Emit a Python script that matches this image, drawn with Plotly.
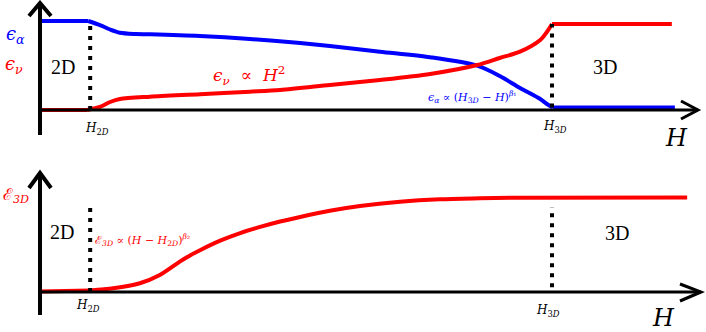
import plotly.graph_objects as go

# ---------------- data (schematic units) ----------------
H2D = 0.098
H3D = 1.0

# top panel: epsilon_alpha (blue) and epsilon_nu (red)
H_alpha = [0.0, 0.094, 0.117, 0.137, 0.156, 0.186, 0.215, 0.3125, 0.410, 0.508,
           0.566, 0.664, 0.762, 0.854, 0.898, 0.9375, 0.977, 0.990, 1.002, 1.240]
eps_alpha = [1.035, 1.035, 0.988, 0.936, 0.899, 0.884, 0.880, 0.860, 0.826, 0.779,
             0.744, 0.678, 0.613, 0.515, 0.395, 0.256, 0.128, 0.070, 0.029, 0.029]

H_nu = [0.0, 0.092, 0.117, 0.137, 0.156, 0.215, 0.3125, 0.410, 0.469, 0.566,
        0.664, 0.762, 0.854, 0.898, 0.9375, 0.977, 0.990, 1.0, 1.234]
eps_nu = [0.0, 0.0, 0.035, 0.093, 0.128, 0.155, 0.183, 0.213, 0.233, 0.291,
          0.349, 0.419, 0.523, 0.605, 0.678, 0.814, 0.907, 1.0, 1.0]

# bottom panel: E_3D (red)
H_e3d = [0.0, 0.098, 0.143, 0.195, 0.234, 0.273, 0.293, 0.3125, 0.352, 0.391, 0.430,
         0.469, 0.508, 0.566, 0.625, 0.703, 0.781, 0.859, 0.9375, 1.264]
e3d = [0.005, 0.016, 0.039, 0.092, 0.179, 0.320, 0.385, 0.440, 0.540, 0.620, 0.685,
       0.742, 0.790, 0.855, 0.905, 0.950, 0.976, 0.986, 0.993, 0.995]

# dotted marker lines in each panel
top_mark_H = [H2D, H3D]
top_mark_lo = [0.0, 0.03]
top_mark_hi = [1.035, 1.0]
bot_mark_H = [H2D, H3D]
bot_mark_lo = [0.0, 0.05]
bot_mark_hi = [0.905, 0.895]

BLUE = "#0000ff"
RED = "#ff0000"
W, Hh = 706, 332
FONT = "DejaVu Serif"
TXT = "Liberation Serif"


def px(x):
    return x / W


def py(y):
    return 1 - y / Hh


fig = go.Figure()


def add_curve(xs, ys, color, xa, ya, flat_start, flat_end):
    """flat_start / flat_end: index where curved part starts / ends."""
    n = len(xs)
    if flat_start > 0:
        fig.add_trace(go.Scatter(x=xs[:flat_start + 1], y=ys[:flat_start + 1], mode="lines",
                                 xaxis=xa, yaxis=ya, line=dict(color=color, width=4)))
    fig.add_trace(go.Scatter(x=xs[flat_start:flat_end + 1], y=ys[flat_start:flat_end + 1],
                             mode="lines", xaxis=xa, yaxis=ya,
                             line=dict(color=color, width=4, shape="spline", smoothing=0.8)))
    if flat_end < n - 1:
        fig.add_trace(go.Scatter(x=xs[flat_end:], y=ys[flat_end:], mode="lines",
                                 xaxis=xa, yaxis=ya, line=dict(color=color, width=4)))


add_curve(H_alpha, eps_alpha, BLUE, "x", "y", 1, len(H_alpha) - 2)
add_curve(H_nu, eps_nu, RED, "x", "y", 1, len(H_nu) - 2)
add_curve(H_e3d, e3d, RED, "x2", "y2", 1, len(H_e3d) - 2)

# dotted verticals
for h, lo, hi in zip(top_mark_H, top_mark_lo, top_mark_hi):
    fig.add_trace(go.Scatter(x=[h, h], y=[lo, hi], mode="lines", xaxis="x", yaxis="y",
                             line=dict(color="black", width=4, dash="4px,6px")))
for h, lo, hi in zip(bot_mark_H, bot_mark_lo, bot_mark_hi):
    fig.add_trace(go.Scatter(x=[h, h], y=[lo, hi], mode="lines", xaxis="x2", yaxis="y2",
                             line=dict(color="black", width=4, dash="4px,6px")))

# axes with open arrow heads (decoration, paper coords)
shapes = []


def seg(x0, y0, x1, y1, w=3):
    shapes.append(dict(type="line", xref="paper", yref="paper",
                       x0=px(x0), y0=py(y0), x1=px(x1), y1=py(y1),
                       line=dict(color="black", width=w)))


def chevron(pts, w=3):
    path = "M " + " L ".join(f"{px(a)},{py(b)}" for a, b in pts)
    shapes.append(dict(type="path", xref="paper", yref="paper", path=path,
                       line=dict(color="black", width=w)))


# top panel axes
seg(40, 3, 40, 135, 4)
seg(40, 110, 698, 110, 3)
chevron([(29, 16), (40, 3), (51, 16)], 4)
chevron([(681, 101), (698, 110), (681, 119)], 3)
# bottom panel axes
seg(40, 173, 40, 315, 4)
seg(40, 292, 701, 292, 3)
chevron([(29, 188), (40, 173), (51, 188)], 4)
chevron([(680, 284), (701, 292), (680, 301)], 3)

ann = []


def label(x, y, text, size, color="black", family=FONT):
    ann.append(dict(x=px(x), y=py(y), xref="paper", yref="paper", text=text,
                    showarrow=False, xanchor="center", yanchor="middle",
                    font=dict(family=family, size=size, color=color)))


label(15, 35, "<i>ϵ<sub>α</sub></i>", 18, BLUE)
label(14, 65, "<i>ϵ<sub>ν</sub></i>", 18, RED)
label(63, 67, "2D", 20, family=TXT)
label(605, 67, "3D", 20, family=TXT)
label(249, 75, "<i>ϵ<sub>ν</sub></i>  ∝  <i>H</i><sup>2</sup>", 17, RED)
label(472, 97, "<i>ϵ<sub>α</sub></i> ∝ (<i>H</i><sub>3<i>D</i></sub> − <i>H</i>)<sup><i>β</i>₁</sup>", 11, BLUE)
label(97, 129, "<i>H</i><sub>2<i>D</i></sub>", 12)
label(555, 127, "<i>H</i><sub>3<i>D</i></sub>", 12)
label(676, 138, "<i>H</i>", 24)

label(16, 195, "ℰ<sub><i>3D</i></sub>", 16, RED)
label(62, 232, "2D", 20, family=TXT)
label(142, 240, "ℰ<sub><i>3D</i></sub> ∝ (<i>H</i> − <i>H</i><sub>2<i>D</i></sub>)<sup><i>β</i>₂</sup>", 11, RED)
label(617, 233, "3D", 20, family=TXT)
label(88, 306, "<i>H</i><sub>2<i>D</i></sub>", 12)
label(548, 311, "<i>H</i><sub>3<i>D</i></sub>", 12)
label(663, 318, "<i>H</i>", 24)

xr = [-40 / 512, 666 / 512]
axis_common = dict(visible=False, showgrid=False, zeroline=False, fixedrange=True)
fig.update_layout(
    width=W, height=Hh, margin=dict(l=0, r=0, t=0, b=0),
    paper_bgcolor="white", plot_bgcolor="white", showlegend=False,
    font=dict(family=FONT),
    xaxis=dict(domain=[0, 1], range=xr, anchor="y", **axis_common),
    yaxis=dict(domain=[1 - 165 / Hh, 1], range=[(110 - 165) / 86, 110 / 86], anchor="x", **axis_common),
    xaxis2=dict(domain=[0, 1], range=xr, anchor="y2", **axis_common),
    yaxis2=dict(domain=[0, 1 - 165 / Hh], range=[(292 - 332) / 95, (292 - 165) / 95], anchor="x2", **axis_common),
    shapes=shapes, annotations=ann,
)

fig.write_html("out.html", config={"displayModeBar": False},
               post_script="document.body.style.margin='0';document.body.style.overflow='hidden';")
